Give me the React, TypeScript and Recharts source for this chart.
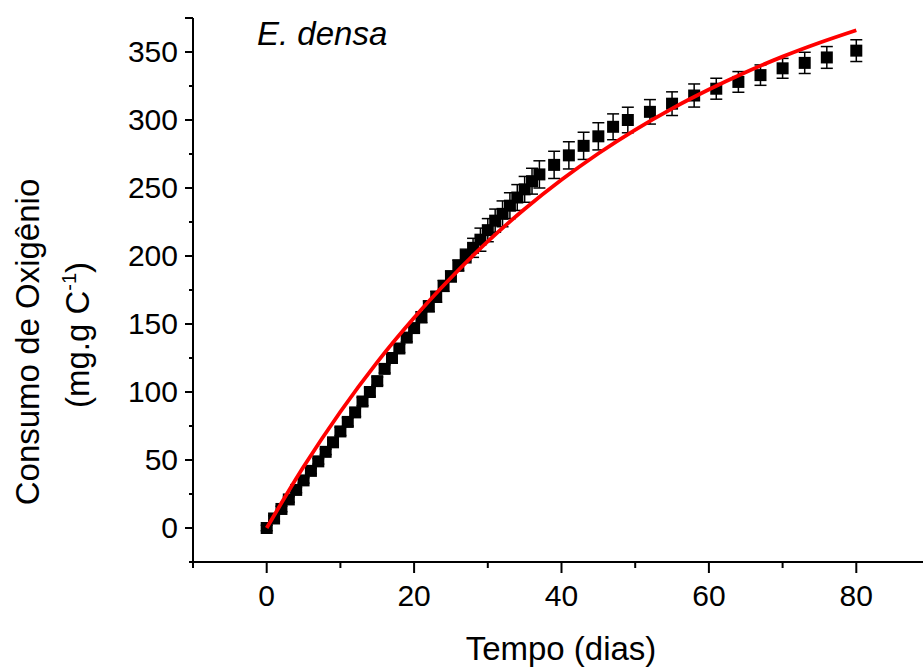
import React from 'react';
import { ComposedChart, Scatter, Line, XAxis, YAxis, ErrorBar } from 'recharts';

// measured oxygen consumption (mean ± error) per day
const days = [
  0, 1, 2, 3, 4, 5, 6, 7, 8, 9, 10, 11, 12, 13, 14, 15, 16, 17, 18, 19, 20,
  21, 22, 23, 24, 25, 26, 27, 28, 29, 30, 31, 32, 33, 34, 35, 36, 37,
  39, 41, 43, 45, 47, 49, 52, 55, 58, 61, 64, 67, 70, 73, 76, 80,
];
const consumo = [
  0, 7, 14, 21, 28, 35, 42, 49, 56, 63, 71, 78, 85, 93, 100, 108, 117, 125, 132, 140, 147,
  155, 163, 170, 178, 185, 193, 200, 206, 212, 219, 226, 231, 237, 243, 249, 255, 260,
  267, 274, 281, 288, 295, 300, 306, 312, 318, 323, 328, 333, 338, 342, 346, 351,
];
const erro = [
  2, 2, 2, 2, 2, 2, 2, 2, 2, 2, 3, 3, 3, 3, 3, 3, 3, 3, 3, 3, 3,
  4, 4, 4, 4, 4, 4, 5, 7, 8.5, 8.5, 8.5, 9.5, 9.5, 9.5, 9.5, 9.5, 10,
  10, 10, 10, 10, 9.5, 9.4, 9, 8.7, 8.5, 7.7, 7.6, 7.5, 7.3, 7.8, 8, 8,
];

// fitted curve (red)
const fitDays = [0, 5, 10, 15, 20, 25, 30, 35, 40, 45, 50, 55, 60, 65, 70, 75, 80];
const fitValues = [0, 45, 85.5, 122, 154.6, 184, 210.7, 234.5, 256, 275.4, 292.8, 308.4, 322.4, 335.1, 346.6, 356.8, 366];

const xTicks = [-10, 0, 10, 20, 30, 40, 50, 60, 70, 80, 90];
const yTicks = [-25, 0, 25, 50, 75, 100, 125, 150, 175, 200, 225, 250, 275, 300, 325, 350, 375];

const pontos = days.map((t, i) => ({ t, v: consumo[i], err: erro[i] }));
const ajuste = fitDays.map((t, i) => ({ t, fit: fitValues[i] }));

const FONT = '"Liberation Sans", Arial, sans-serif';

const XTick = (props: any) => {
  const { x, y, payload } = props;
  const v = payload.value;
  const major = v % 20 === 0;
  const showLabel = major && v >= 0 && v <= 80;
  return (
    <g>
      <line x1={x} x2={x} y1={y} y2={y + (major ? 11 : 6)} stroke="#000" strokeWidth={2} />
      {showLabel && (
        <text x={x} y={y + 44} textAnchor="middle" fontFamily={FONT} fontSize={30} fill="#000">
          {v}
        </text>
      )}
    </g>
  );
};

const YTick = (props: any) => {
  const { x, y, payload } = props;
  const v = payload.value;
  const major = v % 50 === 0;
  const len = major || v === 375 ? 8 : 4;
  return (
    <g>
      <line x1={x - len} x2={x} y1={y} y2={y} stroke="#000" strokeWidth={2} />
      {major && (
        <text x={x - 15} y={y + 10} textAnchor="end" fontFamily={FONT} fontSize={30} fill="#000">
          {v}
        </text>
      )}
    </g>
  );
};

const Quadrado = (props: any) => {
  const { cx, cy } = props;
  if (cx == null || cy == null) return null;
  return <rect x={cx - 6} y={cy - 6} width={12} height={12} fill="#000" />;
};

export default function App() {
  return (
    <div style={{ position: 'absolute', left: 0, top: 0, width: 923, height: 669, overflow: 'hidden', background: '#fff' }}>
      <ComposedChart width={940} height={669} margin={{ top: 18, right: 10, left: 0, bottom: 0 }}>
        <XAxis
          type="number"
          dataKey="t"
          domain={[-10, 90]}
          ticks={xTicks}
          allowDataOverflow
          height={107}
          tickSize={0}
          tickMargin={0}
          tickLine={false}
          tick={<XTick />}
          axisLine={{ stroke: '#000', strokeWidth: 2 }}
        />
        <YAxis
          type="number"
          domain={[-25, 375]}
          ticks={yTicks}
          allowDataOverflow
          width={193}
          tickSize={0}
          tickMargin={0}
          tickLine={false}
          tick={<YTick />}
          axisLine={{ stroke: '#000', strokeWidth: 2 }}
        />
        <Scatter data={pontos} dataKey="v" shape={<Quadrado />} isAnimationActive={false}>
          <ErrorBar dataKey="err" direction="y" width={6} stroke="#000" strokeWidth={1.5} />
        </Scatter>
        <Line
          data={ajuste}
          dataKey="fit"
          type="monotone"
          stroke="#ff0000"
          strokeWidth={3.8}
          dot={false}
          activeDot={false}
          isAnimationActive={false}
          {...({ zIndex: 700 } as any)}
        />
        <text x={257} y={45} fontFamily={FONT} fontSize={33} fontStyle="italic" fill="#000">
          E. densa
        </text>
        <text x={561} y={660} textAnchor="middle" fontFamily={FONT} fontSize={33} fill="#000">
          Tempo (dias)
        </text>
        <text x={39} y={342} transform="rotate(-90 39 342)" textAnchor="middle" fontFamily={FONT} fontSize={33} fill="#000">
          Consumo de Oxigênio
        </text>
        <text x={89} y={335} transform="rotate(-90 89 335)" textAnchor="middle" fontFamily={FONT} fontSize={33} fill="#000">
          (mg.g C
          <tspan dy={-13} fontSize={20}>-1</tspan>
          <tspan dy={13}>)</tspan>
        </text>
      </ComposedChart>
    </div>
  );
}
